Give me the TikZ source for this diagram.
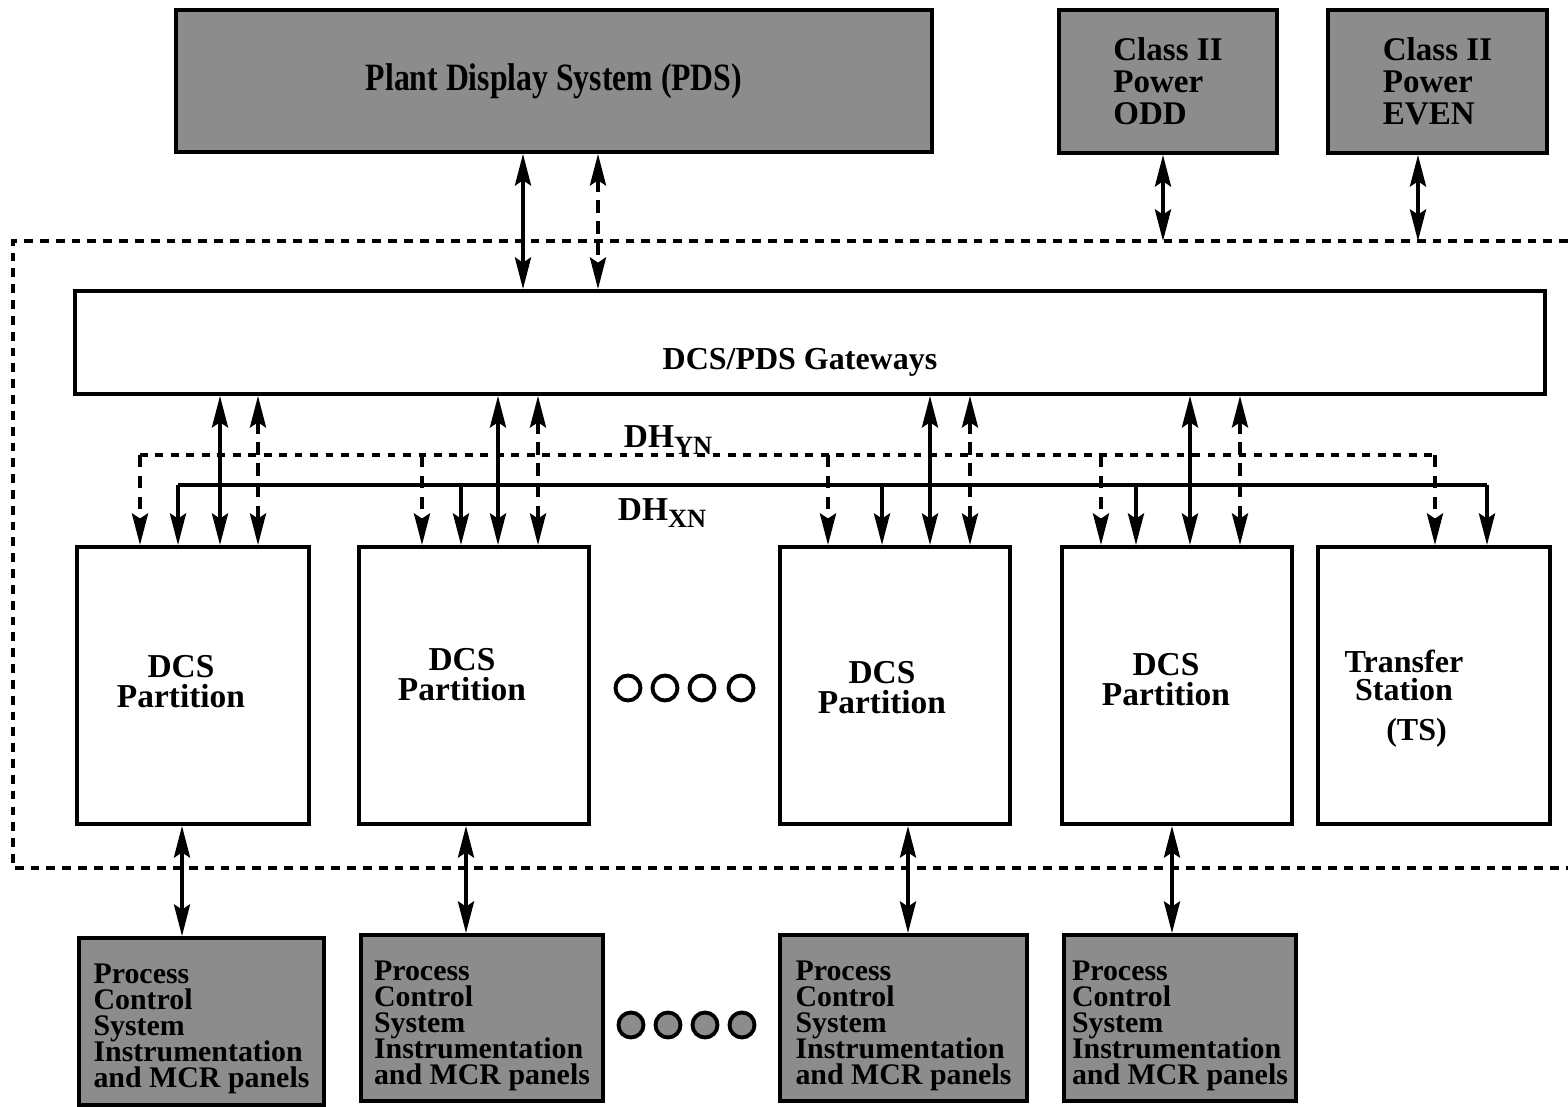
\documentclass[tikz,border=0pt]{standalone}
\usepackage{fontspec}
\setmainfont{Liberation Serif}
\newfontfamily\pdsfont[FakeStretch=0.82]{Liberation Serif}
\usetikzlibrary{arrows.meta}
\definecolor{halfgray}{RGB}{140,140,140}
\newcommand\tightlines{\setlength{\lineskiplimit}{-100pt}\setlength{\lineskip}{0pt}}
\newcommand\pcstext{\rule{0pt}{10pt}Process\\Control\\System\\Instrumentation\\and MCR panels}
\begin{document}
\begin{tikzpicture}[x=0.01cm,y=-0.01cm,
  >={Stealth[length=9pt,width=4.6pt,inset=1.5pt]},
  shaded/.style={draw, line width=1.1pt, fill=halfgray, inner sep=0pt, font=\bfseries},
  plain/.style={draw, line width=1.1pt, fill=white, inner sep=0pt, font=\bfseries},
  sarrow/.style={<->, line width=0.9pt},
  darrow/.style={<->, line width=0.9pt, dash pattern=on 3.5pt off 2.5pt},
  sdown/.style={->, line width=0.9pt},
  ddown/.style={->, line width=0.9pt, dash pattern=on 3.5pt off 2.5pt},
  sbus/.style={line width=0.9pt},
  dbus/.style={line width=0.9pt, dash pattern=on 2.2pt off 2.2pt},
  bound/.style={line width=1pt, dash pattern=on 2.5pt off 2pt},
  dots/.style={circle, draw, line width=1.1pt, minimum size=0.25cm, inner sep=0pt},
  partfont/.style={font=\fontsize{9.5}{8.5}\bfseries\selectfont, align=center, inner sep=0pt},
  tsfont/.style={font=\fontsize{9.1}{8}\bfseries\selectfont\tightlines, align=center, inner sep=0pt},
  pcsfont/.style={font=\fontsize{8.5}{7.4}\bfseries\selectfont\tightlines, align=left},
  classfont/.style={font=\fontsize{9.4}{9.1}\bfseries\selectfont\tightlines, align=left}
]
\useasboundingbox (0,0) rectangle (1568,1107);

% boundary of the DCS
\draw[bound] (1568,241) -- (13,241) -- (13,868) -- (1568,868);

% top boxes
\node[shaded, minimum width=7.56cm, minimum height=1.42cm,
      font=\pdsfont\fontsize{11}{13}\bfseries\selectfont] (pds) at (554,81) {Plant Display System (PDS)};
\node[shaded, classfont, minimum width=2.18cm, minimum height=1.43cm] (odd) at (1168,81.5) {Class II\\Power\\ODD};
\node[shaded, classfont, minimum width=2.19cm, minimum height=1.43cm] (even) at (1437.5,81.5) {Class II\\Power\\EVEN};

% gateway
\node[plain, minimum width=14.70cm, minimum height=1.03cm,
      font=\fontsize{9.1}{11}\bfseries\selectfont] (gw) at (810,342.5)
      {\hspace*{-0.2cm}\raisebox{-0.27cm}[0pt][0pt]{DCS/PDS Gateways}};

% partitions
\node[plain, minimum width=2.32cm, minimum height=2.77cm,
      label={[partfont, xshift=-0.12cm, yshift=0.035cm]center:DCS\\Partition}] (p1) at (193,685.5) {};
\node[plain, minimum width=2.30cm, minimum height=2.77cm,
      label={[partfont, xshift=-0.12cm, yshift=0.105cm]center:DCS\\Partition}] (p2) at (474,685.5) {};
\node[plain, minimum width=2.30cm, minimum height=2.77cm,
      label={[partfont, xshift=-0.13cm, yshift=-0.025cm]center:DCS\\Partition}] (p3) at (895,685.5) {};
\node[plain, minimum width=2.30cm, minimum height=2.77cm,
      label={[partfont, xshift=-0.11cm, yshift=0.055cm]center:DCS\\Partition}] (p4) at (1177,685.5) {};
\node[plain, minimum width=2.32cm, minimum height=2.77cm,
      label={[tsfont, xshift=-0.3cm, yshift=-0.13cm]center:Transfer\\Station\\[3.2pt]\hspace*{0.25cm}(TS)}] (ts) at (1434,685.5) {};

% open circles
\node[dots] (c1) at (628,688) {};
\node[dots] (c2) at (665,688) {};
\node[dots] (c3) at (702,688) {};
\node[dots] (c4) at (741,688) {};

% bottom boxes
\node[shaded, pcsfont, minimum width=2.45cm, minimum height=1.67cm] (b1) at (201.5,1021.5) {\pcstext};
\node[shaded, pcsfont, minimum width=2.42cm, minimum height=1.66cm] (b2) at (482,1018) {\pcstext};
\node[shaded, pcsfont, minimum width=2.47cm, minimum height=1.66cm] (b3) at (903.5,1018) {\pcstext};
\node[shaded, pcsfont, minimum width=2.32cm, minimum height=1.66cm] (b4) at (1180,1018) {\pcstext};

% shaded circles
\node[dots, fill=halfgray] (d1) at (631,1025) {};
\node[dots, fill=halfgray] (d2) at (668,1025) {};
\node[dots, fill=halfgray] (d3) at (705,1025) {};
\node[dots, fill=halfgray] (d4) at (742,1025) {};

% bus labels
\node[font=\fontsize{9.5}{11}\bfseries\selectfont, inner sep=0pt] (dhyn) at (668,440) {DH\raisebox{-0.45ex}{\fontsize{7.5}{8}\selectfont YN}};
\node[font=\fontsize{9.5}{11}\bfseries\selectfont, inner sep=0pt] (dhxn) at (662,513) {DH\raisebox{-0.45ex}{\fontsize{7.5}{8}\selectfont XN}};

% PDS <-> gateway
\draw[sarrow] (pds.south -| 523,0) -- (gw.north -| 523,0);
\draw[darrow] (pds.south -| 598,0) -- (gw.north -| 598,0);

% power supplies to DCS boundary
\coordinate (bodd) at (1163,241);
\coordinate (beven) at (1418,241);
\draw[sarrow] (odd.south -| bodd) -- (bodd);
\draw[sarrow] (even.south -| beven) -- (beven);

% DH_YN bus (dashed)
\coordinate (yn1) at (140,455);
\coordinate (yn2) at (422,455);
\coordinate (yn3) at (828,455);
\coordinate (yn4) at (1101,455);
\coordinate (yn5) at (1435,455);
\draw[dbus] (yn1) -- (yn5);
\draw[ddown] (yn1) -- (p1.north -| yn1);
\draw[ddown] (yn2) -- (p2.north -| yn2);
\draw[ddown] (yn3) -- (p3.north -| yn3);
\draw[ddown] (yn4) -- (p4.north -| yn4);
\draw[ddown] (yn5) -- (ts.north -| yn5);

% DH_XN bus (solid)
\coordinate (xn1) at (178,485);
\coordinate (xn2) at (461,485);
\coordinate (xn3) at (882,485);
\coordinate (xn4) at (1136,485);
\coordinate (xn5) at (1487,485);
\draw[sbus] (xn1) -- (xn5);
\draw[sdown] (xn1) -- (p1.north -| xn1);
\draw[sdown] (xn2) -- (p2.north -| xn2);
\draw[sdown] (xn3) -- (p3.north -| xn3);
\draw[sdown] (xn4) -- (p4.north -| xn4);
\draw[sdown] (xn5) -- (ts.north -| xn5);

% gateway <-> partitions
\draw[sarrow] (gw.south -| 220,0) -- (p1.north -| 220,0);
\draw[darrow] (gw.south -| 258,0) -- (p1.north -| 258,0);
\draw[sarrow] (gw.south -| 498,0) -- (p2.north -| 498,0);
\draw[darrow] (gw.south -| 538,0) -- (p2.north -| 538,0);
\draw[sarrow] (gw.south -| 930,0) -- (p3.north -| 930,0);
\draw[darrow] (gw.south -| 970,0) -- (p3.north -| 970,0);
\draw[sarrow] (gw.south -| 1190,0) -- (p4.north -| 1190,0);
\draw[darrow] (gw.south -| 1240,0) -- (p4.north -| 1240,0);

% partitions <-> process control systems
\draw[sarrow] (p1.south -| 182,0) -- (b1.north -| 182,0);
\draw[sarrow] (p2.south -| 466,0) -- (b2.north -| 466,0);
\draw[sarrow] (p3.south -| 908,0) -- (b3.north -| 908,0);
\draw[sarrow] (p4.south -| 1172,0) -- (b4.north -| 1172,0);
\end{tikzpicture}
\end{document}
